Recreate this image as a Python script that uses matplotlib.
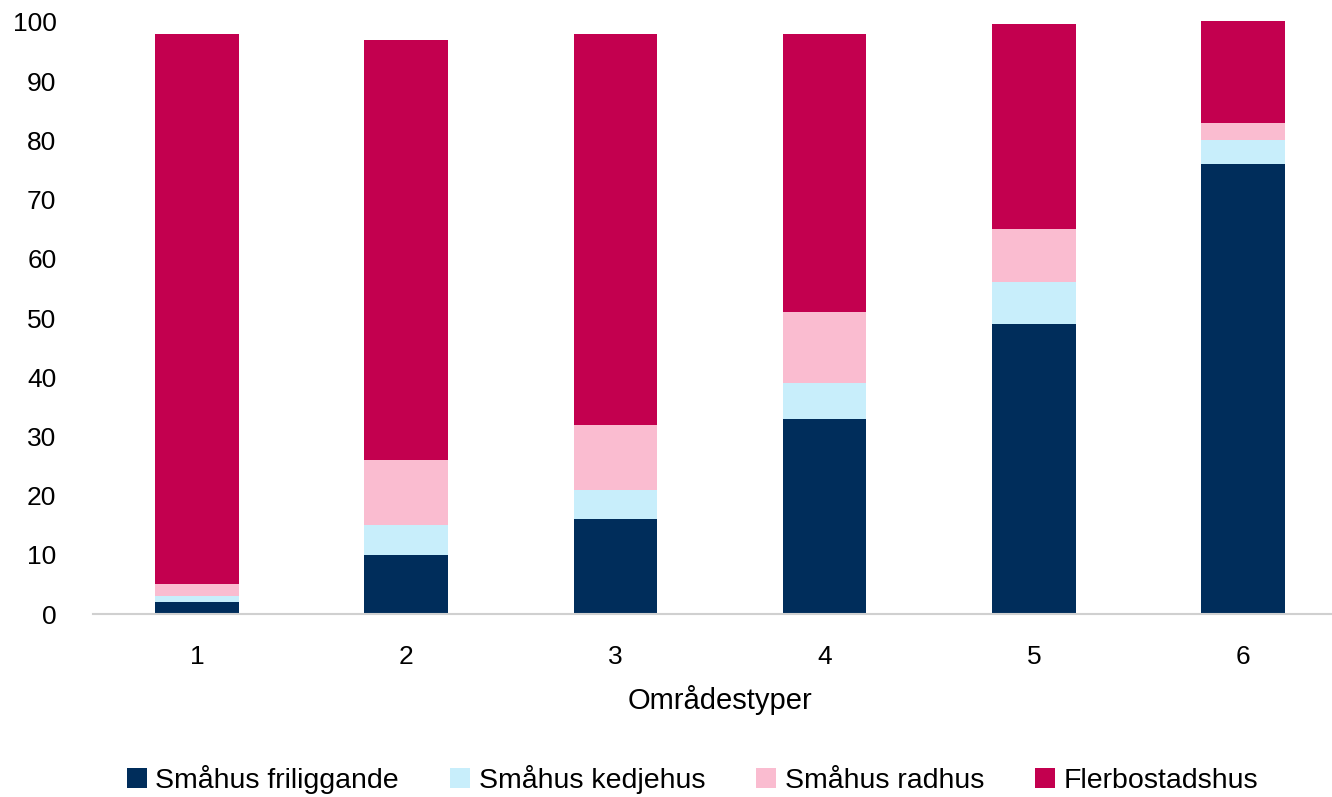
import matplotlib.pyplot as plt
import numpy as np

plt.rcParams['font.family'] = ['Liberation Sans', 'DejaVu Sans']

kategorier = ["1", "2", "3", "4", "5", "6"]
friliggande = [2, 10, 16, 33, 49, 76]
kedjehus = [1, 5, 5, 6, 7, 4]
radhus = [2, 11, 11, 12, 9, 3]
flerbostad = [93, 71, 66, 47, 34.6, 17.2]

serier = [
    ("Småhus friliggande", friliggande, "#002D5B"),
    ("Småhus kedjehus", kedjehus, "#C8EEFB"),
    ("Småhus radhus", radhus, "#FABCD0"),
    ("Flerbostadshus", flerbostad, "#C3004F"),
]

fig = plt.figure(figsize=(13.32, 7.97), dpi=100)
ax = fig.add_axes([0.0695, 0.2296, 0.9422, 0.7428])

x = np.arange(len(kategorier))
bottom = np.zeros(len(kategorier))
for namn, varden, farg in serier:
    ax.bar(x, varden, width=0.4, bottom=bottom, color=farg, label=namn,
           clip_on=False, zorder=2)
    bottom += np.array(varden)

ax.set_xlim(-0.5, len(kategorier) - 0.5)
ax.set_ylim(0, 100)
ax.set_yticks(range(0, 101, 10))
ax.set_xticks(x)
ax.set_xticklabels(kategorier)
ax.tick_params(axis='both', length=0, labelsize=19)
ax.tick_params(axis='x', pad=22)
ax.tick_params(axis='y', pad=26)
for s in ["top", "right", "left"]:
    ax.spines[s].set_visible(False)
ax.spines["bottom"].set_color("#D0D0D0")
ax.spines["bottom"].set_linewidth(1.5)

ax.set_xlabel("Områdestyper", fontsize=21, labelpad=12)

fig.legend(loc="center", bbox_to_anchor=(0.52, 0.022), ncol=4, frameon=False,
           prop={'size': 20.5},
           handlelength=0.7, handleheight=0.7, handletextpad=0.3,
           columnspacing=1.8)

fig.savefig("out.png", dpi=100)
